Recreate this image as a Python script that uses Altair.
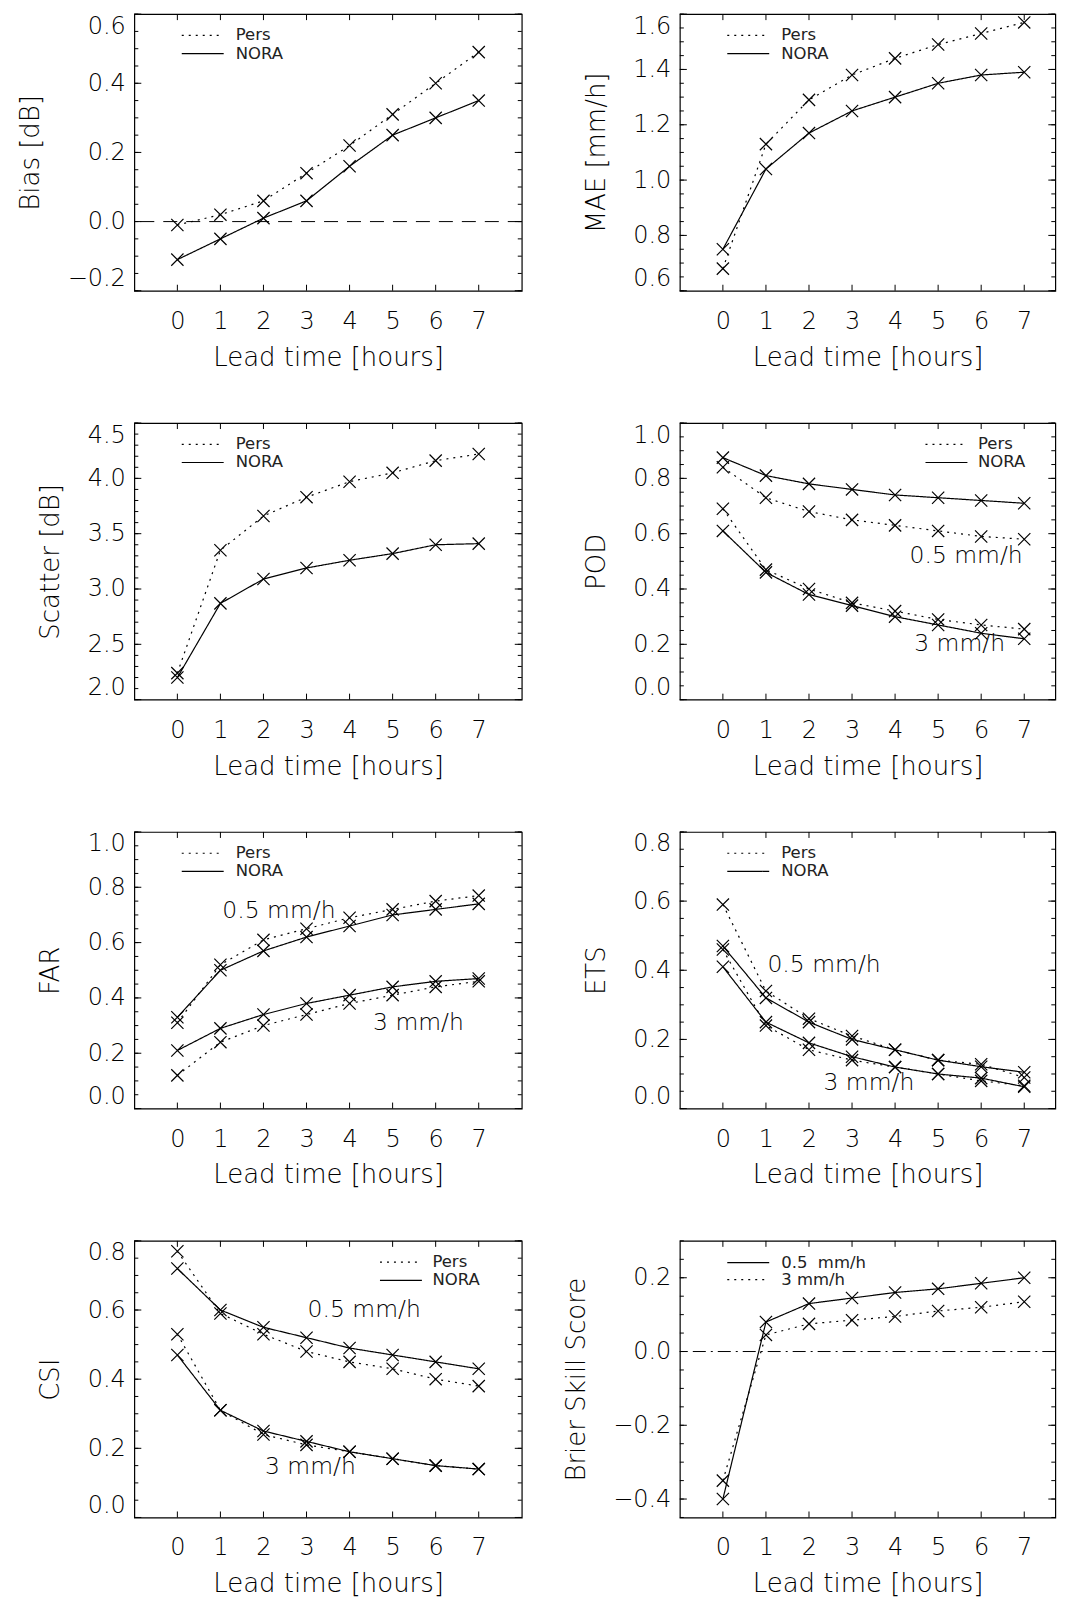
import altair as alt
import pandas as pd
import numpy as np

# ---------------- data ----------------
lead = [0, 1, 2, 3, 4, 5, 6, 7]

bias_pers = [-0.01, 0.02, 0.06, 0.14, 0.22, 0.31, 0.40, 0.49]
bias_nora = [-0.11, -0.05, 0.01, 0.06, 0.16, 0.25, 0.30, 0.35]

mae_pers = [0.68, 1.13, 1.29, 1.38, 1.44, 1.49, 1.53, 1.57]
mae_nora = [0.75, 1.04, 1.17, 1.25, 1.30, 1.35, 1.38, 1.39]

scat_pers = [2.24, 3.35, 3.66, 3.83, 3.97, 4.05, 4.16, 4.22]
scat_nora = [2.20, 2.87, 3.09, 3.19, 3.26, 3.32, 3.40, 3.41]

pod_pers_05 = [0.84, 0.73, 0.68, 0.65, 0.63, 0.61, 0.59, 0.58]
pod_nora_05 = [0.875, 0.81, 0.78, 0.76, 0.74, 0.73, 0.72, 0.71]
pod_pers_3 = [0.69, 0.47, 0.40, 0.35, 0.32, 0.29, 0.27, 0.255]
pod_nora_3 = [0.61, 0.46, 0.38, 0.34, 0.30, 0.27, 0.24, 0.22]

far_pers_05 = [0.31, 0.52, 0.61, 0.65, 0.69, 0.72, 0.75, 0.77]
far_nora_05 = [0.33, 0.50, 0.57, 0.62, 0.66, 0.70, 0.72, 0.74]
far_pers_3 = [0.12, 0.24, 0.30, 0.34, 0.38, 0.41, 0.44, 0.46]
far_nora_3 = [0.21, 0.29, 0.34, 0.38, 0.41, 0.44, 0.46, 0.47]

ets_pers_05 = [0.59, 0.34, 0.26, 0.21, 0.17, 0.14, 0.128, 0.09]
ets_nora_05 = [0.47, 0.32, 0.25, 0.20, 0.17, 0.14, 0.121, 0.105]
ets_pers_3 = [0.46, 0.24, 0.17, 0.14, 0.12, 0.10, 0.08, 0.066]
ets_nora_3 = [0.41, 0.25, 0.19, 0.15, 0.12, 0.10, 0.088, 0.063]

csi_pers_05 = [0.77, 0.59, 0.53, 0.48, 0.45, 0.43, 0.40, 0.38]
csi_nora_05 = [0.72, 0.60, 0.55, 0.52, 0.49, 0.47, 0.45, 0.43]
csi_pers_3 = [0.53, 0.31, 0.24, 0.21, 0.19, 0.17, 0.15, 0.14]
csi_nora_3 = [0.47, 0.31, 0.25, 0.22, 0.19, 0.17, 0.15, 0.14]

bss_05 = [-0.40, 0.08, 0.13, 0.145, 0.16, 0.17, 0.185, 0.20]
bss_3 = [-0.35, 0.045, 0.075, 0.085, 0.095, 0.11, 0.12, 0.135]

# ---------------- style ----------------
FONT = "DejaVu Sans"
H = 277
W1 = 388            # left column: lead -1 .. 8
W2 = 376            # right column: same scale, cut at the page edge
X2MAX = -1 + W2 / (W1 / 9.0)
XP = "M-1,-1L1,1M-1,1L1,-1"
DOT = [2, 5]
TXT = "#000000"


def series_df(items):
    rows = []
    for name, style, vals in items:
        for x, v in zip(lead, vals):
            rows.append({"lead": x, "value": v, "series": name, "style": style})
    return pd.DataFrame(rows)


def ticks(lo, hi, step):
    n = int(round((hi - lo) / step))
    return [round(lo + i * step, 4) for i in range(n + 1)]


def one():
    return alt.Chart(pd.DataFrame({"a": [0]}))


def panel(df, ytitle, ydomain, majors, minor_step, legend, legend_x,
          annots=None, zero=None, col=1):
    W = W1 if col == 1 else W2
    xmax = 8 if col == 1 else X2MAX
    xs = alt.Scale(domain=[-1, xmax], nice=False, zero=False)
    ys = alt.Scale(domain=ydomain, nice=False, zero=False)
    xaxis = alt.Axis(values=lead, format="d", title="Lead time [hours]",
                     grid=False, domain=False, ticks=False, tickSize=0,
                     labelPadding=18.5, titlePadding=11)
    yaxis = alt.Axis(values=majors, format=".1f", title=ytitle,
                     grid=False, domain=False, ticks=False, tickSize=0,
                     labelPadding=9, titlePadding=23.5, labelFlush=True)
    base = alt.Chart(df)
    lines = base.mark_line(color="black", strokeWidth=1.2).encode(
        x=alt.X("lead:Q", scale=xs, axis=xaxis),
        y=alt.Y("value:Q", scale=ys, axis=yaxis),
        strokeDash=alt.StrokeDash("style:N",
                                  scale=alt.Scale(domain=["dot", "solid"],
                                                  range=[DOT, [1, 0]]),
                                  legend=None),
        detail="series:N",
    )
    pts = base.mark_point(shape=XP, size=150, filled=False, color="black",
                          strokeWidth=1.2, opacity=1).encode(
        x="lead:Q", y="value:Q")
    layers = [lines, pts]

    minors = ticks(ydomain[0], ydomain[1], minor_step)
    tmaj = alt.Chart(pd.DataFrame({"v": majors}))
    tmin = alt.Chart(pd.DataFrame({"v": minors}))
    tx = alt.Chart(pd.DataFrame({"v": lead}))
    rule = dict(color="black", strokeWidth=1)
    layers += [
        tmaj.mark_rule(**rule).encode(y="v:Q", x=alt.value(0), x2=alt.value(7)),
        tmaj.mark_rule(**rule).encode(y="v:Q", x=alt.value(W - 7), x2=alt.value(W)),
        tmin.mark_rule(**rule).encode(y="v:Q", x=alt.value(0), x2=alt.value(4)),
        tmin.mark_rule(**rule).encode(y="v:Q", x=alt.value(W - 4), x2=alt.value(W)),
        tx.mark_rule(**rule).encode(x="v:Q", y=alt.value(0), y2=alt.value(6)),
        tx.mark_rule(**rule).encode(x="v:Q", y=alt.value(H - 6), y2=alt.value(H)),
    ]
    if zero is not None:
        layers.append(alt.Chart(pd.DataFrame({"v": [0.0]})).mark_rule(
            color="black", strokeWidth=1, strokeDash=zero).encode(y="v:Q"))
    if annots is not None:
        layers.append(alt.Chart(pd.DataFrame(annots)).mark_text(
            font=FONT, fontSize=23.5, fontWeight=300, color=TXT,
            align="center", baseline="middle").encode(
            x="x:Q", y="y:Q", text="t:N"))
    x1, x2, xt = legend_x
    for label, style, yp in legend:
        layers.append(one().mark_rule(color="black", strokeWidth=1.2,
                                      strokeDash=DOT if style == "dot" else [1, 0]).encode(
            x=alt.value(x1), x2=alt.value(x2), y=alt.value(yp)))
        layers.append(one().mark_text(font=FONT, fontSize=16.5, fontWeight=400,
                                      color="#222222", align="left", baseline="middle",
                                      text=label).encode(
            x=alt.value(xt), y=alt.value(yp)))
    return alt.layer(*layers).properties(width=W, height=H)


LEG_L = (47.5, 89.5, 101.5)
LEG_R = (246, 288, 298.5)
pn = [("Pers", "dot", 21.3), ("NORA", "solid", 39.5)]

p1 = panel(series_df([("Pers", "dot", bias_pers), ("NORA", "solid", bias_nora)]),
           "Bias [dB]", [-0.2, 0.6], [-0.2, 0.0, 0.2, 0.4, 0.6], 0.05, pn, LEG_L,
           zero=[14, 9])
p2 = panel(series_df([("Pers", "dot", mae_pers), ("NORA", "solid", mae_nora)]),
           "MAE [mm/h]", [0.6, 1.6], [0.6, 0.8, 1.0, 1.2, 1.4, 1.6], 0.05, pn, LEG_L,
           col=2)
p3 = panel(series_df([("Pers", "dot", scat_pers), ("NORA", "solid", scat_nora)]),
           "Scatter [dB]", [2.0, 4.5], [2.0, 2.5, 3.0, 3.5, 4.0, 4.5], 0.1, pn, LEG_L)
p4 = panel(series_df([("Pers 0.5", "dot", pod_pers_05), ("NORA 0.5", "solid", pod_nora_05),
                      ("Pers 3", "dot", pod_pers_3), ("NORA 3", "solid", pod_nora_3)]),
           "POD", [0.0, 1.0], [0.0, 0.2, 0.4, 0.6, 0.8, 1.0], 0.05, pn, LEG_R,
           annots={"x": [5.65, 5.5], "y": [0.52, 0.20], "t": ["0.5 mm/h", "3 mm/h"]},
           col=2)
p5 = panel(series_df([("Pers 0.5", "dot", far_pers_05), ("NORA 0.5", "solid", far_nora_05),
                      ("Pers 3", "dot", far_pers_3), ("NORA 3", "solid", far_nora_3)]),
           "FAR", [0.0, 1.0], [0.0, 0.2, 0.4, 0.6, 0.8, 1.0], 0.05, pn, LEG_L,
           annots={"x": [2.36, 5.6], "y": [0.713, 0.31], "t": ["0.5 mm/h", "3 mm/h"]})
p6 = panel(series_df([("Pers 0.5", "dot", ets_pers_05), ("NORA 0.5", "solid", ets_nora_05),
                      ("Pers 3", "dot", ets_pers_3), ("NORA 3", "solid", ets_nora_3)]),
           "ETS", [0.0, 0.8], [0.0, 0.2, 0.4, 0.6, 0.8], 0.05, pn, LEG_L,
           annots={"x": [2.35, 3.39], "y": [0.416, 0.075], "t": ["0.5 mm/h", "3 mm/h"]},
           col=2)
p7 = panel(series_df([("Pers 0.5", "dot", csi_pers_05), ("NORA 0.5", "solid", csi_nora_05),
                      ("Pers 3", "dot", csi_pers_3), ("NORA 3", "solid", csi_nora_3)]),
           "CSI", [0.0, 0.8], [0.0, 0.2, 0.4, 0.6, 0.8], 0.05, pn, LEG_R,
           annots={"x": [4.34, 3.09], "y": [0.599, 0.145], "t": ["0.5 mm/h", "3 mm/h"]})
p8 = panel(series_df([("0.5", "solid", bss_05), ("3", "dot", bss_3)]),
           "Brier Skill Score", [-0.45, 0.3], [-0.4, -0.2, 0.0, 0.2], 0.05,
           [("0.5\u00a0 mm/h", "solid", 21.8), ("3 mm/h", "dot", 38.8)], LEG_L,
           zero=[13, 5, 2, 5], col=2)

chart = alt.ConcatChart(
    concat=[p1, p2, p3, p4, p5, p6, p7, p8],
    columns=2,
    spacing={"row": 132.5, "column": 158.3},
    bounds="flush",
    padding={"left": 8.5, "top": 3, "right": 0, "bottom": 0},
).configure_view(stroke="black", strokeWidth=1.2).configure_axis(
    labelFont=FONT, titleFont=FONT, labelFontSize=24, titleFontSize=26,
    labelFontWeight=300, titleFontWeight=300, labelColor=TXT, titleColor=TXT,
)

chart.save("out.html", embed_options={"renderer": "svg", "actions": False})
